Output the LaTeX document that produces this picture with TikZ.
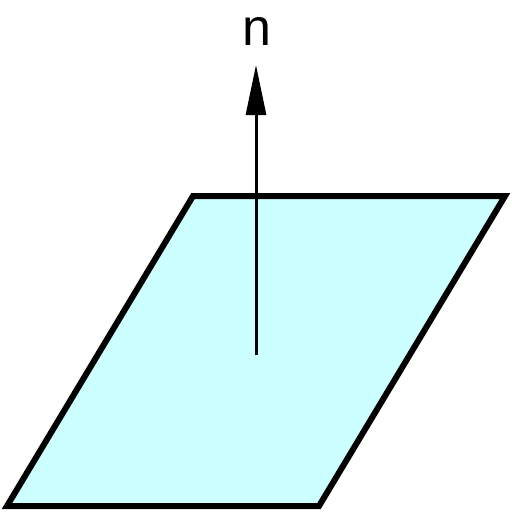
\documentclass[tikz,border=0pt]{standalone}
\usepackage{fontspec}
\setmainfont{Liberation Sans}
\usetikzlibrary{arrows.meta}

\tikzset{
    plane/.style={draw=black, line width=6pt, fill=planecyan},
    normalvec/.style={draw=black, line width=3pt, -{Triangle[length=50pt, width=20pt]}},
    veclabel/.style={inner sep=0pt, font=\fontsize{52}{60}\selectfont}
}
\definecolor{planecyan}{HTML}{CCFFFF}

\begin{document}
\begin{tikzpicture}[x=1pt, y=-1pt]
    \useasboundingbox (0,0) rectangle (512,512);
    % the plane
    \draw[plane] (193,196) -- (505,196) -- (319,506) -- (7,506) -- cycle;
    % normal vector
    \coordinate (foot) at (256,355);
    \coordinate (tip) at (256,65);
    \draw[normalvec] (foot) -- (tip);
    \node[veclabel] (nlabel) at (257,31.5) {n};
\end{tikzpicture}
\end{document}
